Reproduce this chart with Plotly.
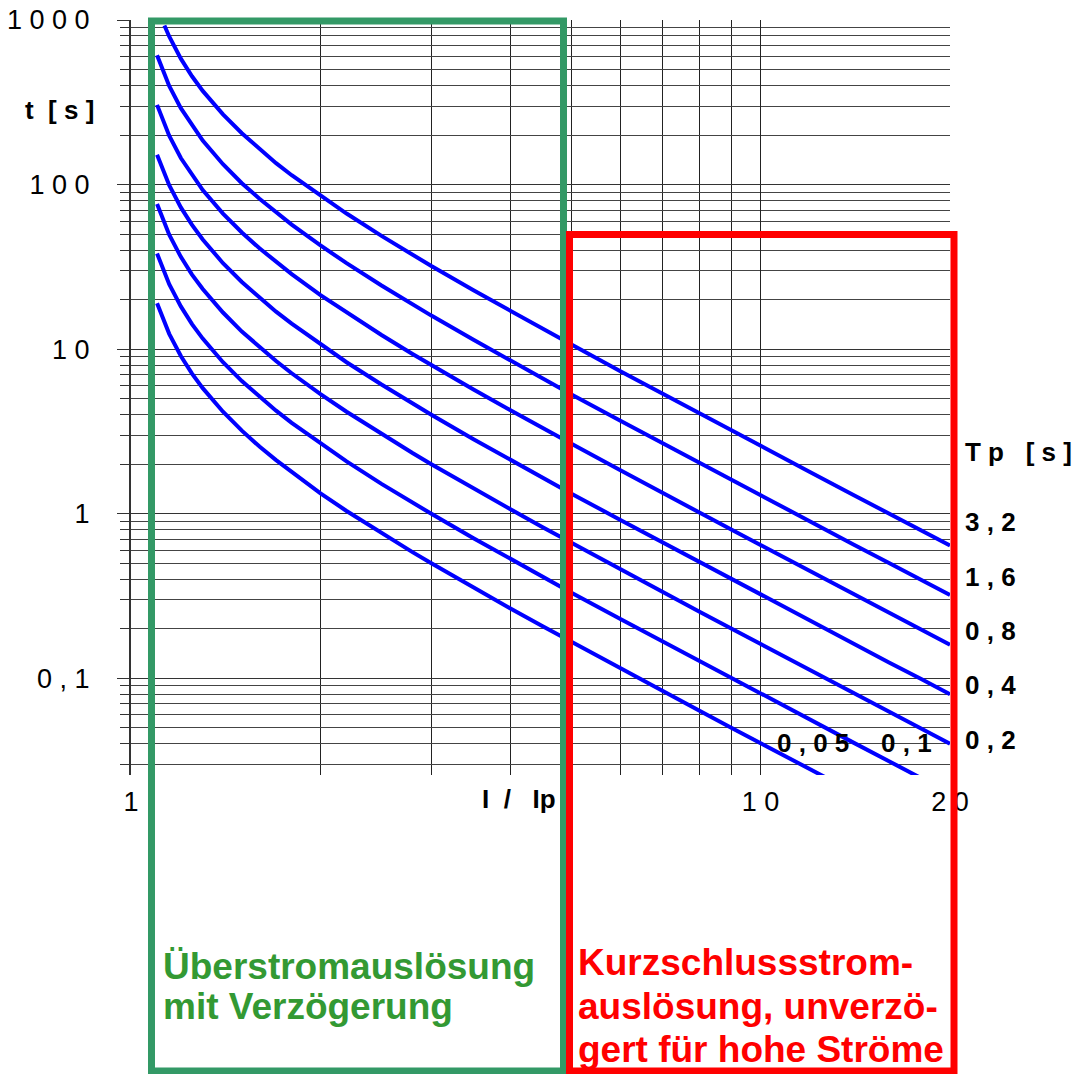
import plotly.graph_objects as go

# ---------------- data ----------------
I_ratio = [1.1, 1.13, 1.15, 1.2, 1.25, 1.3, 1.4, 1.5, 1.6, 1.7, 1.8, 2.0, 2.2, 2.5, 2.8,
           3.0, 3.5, 4.0, 4.5, 5.0, 6.0, 7.0, 8.0, 9.0, 10, 12, 14, 16, 18, 20]

t_tp_3_2 = [None, 925, 794, 582, 455, 371, 267, 205, 164, 135, 114, 85.3, 66.7, 48.8, 37.4,
            32.0, 22.8, 17.1, 13.3, 10.7, 7.31, 5.33, 4.06, 3.20, 2.59, 1.79, 1.31, 1.00, 0.793, 0.642]
t_tp_1_6 = [610, 462, 397, 291, 228, 185, 133, 102, 82.1, 67.7, 57.1, 42.7, 33.3, 24.4, 18.7,
            16.0, 11.4, 8.53, 6.65, 5.33, 3.66, 2.67, 2.03, 1.60, 1.29, 0.895, 0.656, 0.502, 0.396, 0.321]
t_tp_0_8 = [305, 231, 198, 145, 114, 92.7, 66.7, 51.2, 41.0, 33.9, 28.6, 21.3, 16.7, 12.2, 9.36,
            8.00, 5.69, 4.27, 3.32, 2.67, 1.83, 1.33, 1.02, 0.800, 0.646, 0.448, 0.328, 0.251, 0.198, 0.160]
t_tp_0_4 = [152, 116, 99.2, 72.7, 56.9, 46.4, 33.3, 25.6, 20.5, 16.9, 14.3, 10.7, 8.33, 6.10, 4.68,
            4.00, 2.84, 2.13, 1.66, 1.33, 0.914, 0.667, 0.508, 0.400, 0.323, 0.224, 0.164, 0.125, 0.0991, 0.0802]
t_tp_0_2 = [76.2, 57.8, 49.6, 36.4, 28.4, 23.2, 16.7, 12.8, 10.3, 8.47, 7.14, 5.33, 4.17, 3.05, 2.34,
            2.00, 1.42, 1.07, 0.831, 0.667, 0.457, 0.333, 0.254, 0.200, 0.162, 0.112, 0.0821, 0.0627, 0.0495, 0.0401]
t_tp_0_1 = [38.1, 28.9, 24.8, 18.2, 14.2, 11.6, 8.33, 6.40, 5.13, 4.23, 3.57, 2.67, 2.08, 1.52, 1.17,
            1.00, 0.711, 0.533, 0.416, 0.333, 0.229, 0.167, 0.127, 0.100, 0.0808, 0.0559, 0.0410, 0.0314, 0.0248, 0.0200]
t_tp_0_05 = [19.0, 14.4, 12.4, 9.09, 7.11, 5.80, 4.17, 3.20, 2.56, 2.12, 1.79, 1.33, 1.04, 0.762, 0.585,
             0.500, 0.356, 0.267, 0.208, 0.167, 0.114, 0.0833, 0.0635, 0.0500, 0.0404, 0.0280, 0.0205, 0.0157, 0.0124, 0.0100]

curves = [t_tp_3_2, t_tp_1_6, t_tp_0_8, t_tp_0_4, t_tp_0_2, t_tp_0_1, t_tp_0_05]
curve_names = ["3,2", "1,6", "0,8", "0,4", "0,2", "0,1", "0,05"]

y_tickvals = [0.1, 1, 10, 100, 1000]
y_ticktext = ["0 , 1", "1", "1 0", "1 0 0", "1 0 0 0"]
x_tickvals = [1, 10, 20]
x_ticktext = ["1", "1 0", "2 0"]
x_minor = [2, 3, 4, 5, 6, 7, 8, 9]
y_minor = [m * d for d in [0.01, 0.1, 1, 10, 100] for m in range(2, 10)]

tp_labels = ["3 , 2", "1 , 6", "0 , 8", "0 , 4", "0 , 2"]
tp_low_labels = ["0 , 0 5", "0 , 1"]

# ---------------- geometry ----------------
W, H = 1073, 1074
L, R, T, B = 131, 950, 20, 775
PW, PH = R - L, B - T

def px(x):
    return (x - L) / PW

def py(y):
    return (B - y) / PH

FONT = "Liberation Sans, Arial, sans-serif"

fig = go.Figure()
for name, ys in zip(curve_names, curves):
    fig.add_trace(go.Scatter(x=I_ratio, y=ys, mode="lines", name=name,
                             line=dict(color="#0000ff", width=4),
                             showlegend=False, hoverinfo="skip"))

fig.update_layout(
    width=W, height=H, autosize=False,
    margin=dict(l=L, r=W - R, t=T, b=H - B, pad=0, autoexpand=False),
    paper_bgcolor="white", plot_bgcolor="white",
    font=dict(family=FONT, size=26, color="black"),
    showlegend=False,
)

fig.update_xaxes(
    type="log", range=[0, 1.30103], automargin=False,
    tickvals=x_tickvals, ticktext=x_ticktext, ticks="",
    showgrid=True, gridcolor="#222222", gridwidth=1,
    minor=dict(tickvals=x_minor, showgrid=True, gridcolor="#222222", gridwidth=1, ticks=""),
    showline=False, zeroline=False,
    tickfont=dict(family=FONT, size=27, color="black"),
    ticklabelstandoff=8,
)
fig.update_yaxes(
    type="log", range=[-1.587, 3], automargin=False,
    tickvals=y_tickvals, ticktext=y_ticktext,
    ticks="outside", ticklen=12, tickwidth=1, tickcolor="#333333",
    showgrid=True, gridcolor="#333333", gridwidth=1,
    minor=dict(tickvals=y_minor, showgrid=True, gridcolor="#444444", gridwidth=1,
               ticks="outside", ticklen=9, tickwidth=1, tickcolor="#333333"),
    showline=True, linecolor="#333333", linewidth=2,
    zeroline=False,
    tickfont=dict(family=FONT, size=27, color="black"),
    ticklabelstandoff=22,
)

# boxes
fig.add_shape(type="rect", xref="paper", yref="paper",
              x0=px(151.5), x1=px(563.5), y0=py(1071), y1=py(21),
              line=dict(color="#339966", width=7), fillcolor="rgba(0,0,0,0)", layer="above")
fig.add_shape(type="rect", xref="paper", yref="paper",
              x0=px(569.5), x1=px(954), y0=py(1071), y1=py(234.5),
              line=dict(color="#ff0000", width=7), fillcolor="rgba(0,0,0,0)", layer="above")

def ann(text, x, y, size=26, color="black", xanchor="center", bold=True):
    fig.add_annotation(text=("<b>%s</b>" % text) if bold else text,
                       xref="paper", yref="paper", x=px(x), y=py(y),
                       xanchor=xanchor, yanchor="middle", showarrow=False,
                       font=dict(family=FONT, size=size, color=color))

NB = "\u00a0"
ann("t" + NB * 2 + "[" + NB + "s" + NB + "]", 59, 110)
ann("I" + NB * 2 + "/" + NB * 3 + "Ip", 519, 799)
ann("T" + NB + "p" + NB * 3 + "[" + NB + "s" + NB + "]", 963, 452, xanchor="left")

for lab, yy in zip(tp_labels, [522, 577, 631, 685, 740]):
    ann(lab.replace(" ", NB), 963, yy, xanchor="left")
for lab, xx in zip(tp_low_labels, [813, 906]):
    ann(lab.replace(" ", NB), xx, 743)

ann("Überstromauslösung", 161, 966, size=37, color="#339933", xanchor="left")
ann("mit Verzögerung", 161, 1006, size=37, color="#339933", xanchor="left")
ann("Kurzschlussstrom-", 576, 962, size=37, color="#ff0000", xanchor="left")
ann("auslösung, unverzö-", 576, 1006, size=37, color="#ff0000", xanchor="left")
ann("gert für hohe Ströme", 576, 1049, size=37, color="#ff0000", xanchor="left")

fig.write_html("out.html", config={"displayModeBar": False},
               post_script="document.body.style.margin='0';document.body.style.overflow='hidden';")
